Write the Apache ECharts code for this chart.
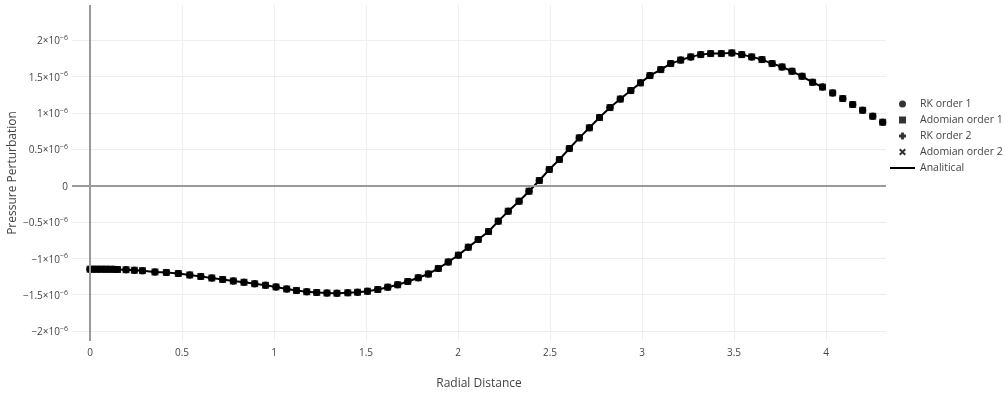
<!DOCTYPE html>
<html>
<head>
<meta charset="utf-8">
<script src="https://cdn.jsdelivr.net/npm/echarts@6/dist/echarts.min.js"></script>
<style>html,body{margin:0;padding:0;background:#fff;}#c{width:1005px;height:395px;}</style>
</head>
<body>
<div id="c"></div>
<script>
// ---- data ----
const radialDistance = [
  0.000, 0.025, 0.050, 0.075, 0.100, 0.125, 0.150, 0.196, 0.241, 0.285,
  0.353, 0.415, 0.480, 0.542, 0.602, 0.662, 0.721, 0.779, 0.837, 0.895,
  0.954, 1.011, 1.069, 1.122, 1.178, 1.232, 1.288, 1.342, 1.401, 1.454,
  1.508, 1.564, 1.618, 1.672, 1.727, 1.784, 1.839, 1.893, 1.947, 2.002,
  2.056, 2.110, 2.166, 2.219, 2.273, 2.332, 2.386, 2.442, 2.496, 2.551,
  2.605, 2.659, 2.714, 2.769, 2.826, 2.882, 2.939, 2.992, 3.043, 3.102,
  3.156, 3.210, 3.265, 3.319, 3.373, 3.431, 3.488, 3.542, 3.596, 3.652,
  3.707, 3.761, 3.815, 3.870, 3.927, 3.981, 4.036, 4.091, 4.145, 4.199,
  4.254, 4.308
];
// pressure perturbation (all four numerical solutions coincide at this resolution)
const rkOrder1 = [
  -1.150e-6, -1.150e-6, -1.150e-6, -1.150e-6, -1.151e-6, -1.152e-6, -1.154e-6, -1.157e-6, -1.165e-6, -1.170e-6,
  -1.188e-6, -1.195e-6, -1.209e-6, -1.229e-6, -1.250e-6, -1.271e-6, -1.291e-6, -1.312e-6, -1.330e-6, -1.350e-6,
  -1.371e-6, -1.394e-6, -1.422e-6, -1.442e-6, -1.460e-6, -1.470e-6, -1.478e-6, -1.481e-6, -1.474e-6, -1.467e-6,
  -1.453e-6, -1.429e-6, -1.397e-6, -1.364e-6, -1.319e-6, -1.268e-6, -1.216e-6, -1.140e-6, -1.051e-6, -0.957e-6,
  -0.848e-6, -0.742e-6, -0.632e-6, -0.490e-6, -0.353e-6, -0.216e-6, -0.078e-6, 0.069e-6, 0.220e-6, 0.357e-6,
  0.508e-6, 0.655e-6, 0.793e-6, 0.934e-6, 1.071e-6, 1.188e-6, 1.305e-6, 1.411e-6, 1.511e-6, 1.593e-6,
  1.676e-6, 1.724e-6, 1.768e-6, 1.799e-6, 1.813e-6, 1.813e-6, 1.823e-6, 1.799e-6, 1.768e-6, 1.731e-6,
  1.676e-6, 1.630e-6, 1.570e-6, 1.501e-6, 1.419e-6, 1.353e-6, 1.273e-6, 1.195e-6, 1.113e-6, 1.034e-6,
  0.952e-6, 0.870e-6
];
const adomianOrder1 = rkOrder1;
const rkOrder2 = rkOrder1;
const adomianOrder2 = rkOrder1;
// analytical solution is drawn up to r = 4
const analyticalCount = radialDistance.filter(r => r <= 4.0).length;
const analyticalX = radialDistance.slice(0, analyticalCount);
const analyticalY = rkOrder1.slice(0, analyticalCount);

const xTicks = [0, 0.5, 1, 1.5, 2, 2.5, 3, 3.5, 4];
const yTicks = [-2e-6, -1.5e-6, -1e-6, -0.5e-6, 0, 0.5e-6, 1e-6, 1.5e-6, 2e-6];

const seriesNames = ['RK order 1', 'Adomian order 1', 'RK order 2', 'Adomian order 2', 'Analitical'];

// ---- chart ----
const FONT = '"Open Sans", "Noto Sans", sans-serif';
const TXT = '#444';
const pairs = (xs, ys) => xs.map((x, i) => [x, ys[i]]);

const squarePath = 'path://M0,0L10,0L10,10L0,10Z';
const crossPath = 'path://M3,0L7,0L7,3L10,3L10,7L7,7L7,10L3,10L3,7L0,7L0,3L3,3Z';
const xPath = 'path://M0,2L2,0L5,3L8,0L10,2L7,5L10,8L8,10L5,7L2,10L0,8L3,5Z';
const linePath = 'path://M0,0L25,0L25,2L0,2Z';

function yFmt(v) {
  const m = Math.round(v * 1e7) / 10;
  if (Math.abs(m) < 1e-9) return '{a|0}';
  const s = (m < 0 ? '\u2212' : '') + Math.abs(m);
  return '{a|' + s + '\u00d710}{b|\u22126}';
}

const chart = echarts.init(document.getElementById('c'), null, { renderer: 'canvas' });
chart.setOption({
  backgroundColor: '#fff',
  animation: false,
  textStyle: { fontFamily: FONT },
  grid: { left: 72, right: 119, top: 5, bottom: 54, containLabel: false, outerBoundsMode: 'none' },
  xAxis: {
    type: 'value', min: -0.0978, max: 4.326,
    name: 'Radial Distance', nameLocation: 'middle', nameGap: 37,
    nameTextStyle: { color: TXT, fontSize: 12, fontFamily: FONT },
    axisLine: { show: false, onZero: false },
    axisTick: { show: false, customValues: xTicks },
    axisLabel: { customValues: xTicks, color: TXT, fontSize: 10, fontFamily: FONT, margin: 7,
      formatter: v => String(Math.round(v * 10) / 10) },
    splitLine: { show: true, lineStyle: { color: '#eeeeee', width: 1 } }
  },
  yAxis: {
    type: 'value', min: -2.137e-6, max: 2.481e-6,
    name: 'Pressure Perturbation', nameLocation: 'middle', nameGap: 53, nameRotate: 90,
    nameMoveOverlap: false,
    nameTextStyle: { color: TXT, fontSize: 12, fontFamily: FONT },
    axisLine: { show: false, onZero: false },
    axisTick: { show: false, customValues: yTicks },
    axisLabel: { customValues: yTicks, margin: 4, formatter: yFmt, padding: [3, 0, 0, 0],
      rich: {
        a: { color: TXT, fontSize: 10, fontFamily: FONT },
        b: { color: TXT, fontSize: 7, fontFamily: FONT, padding: [0, 0, 7, 0] }
      } },
    splitLine: { show: true, lineStyle: { color: '#eeeeee', width: 1 } }
  },
  legend: {
    orient: 'vertical', left: 890, top: 96, padding: 0,
    itemWidth: 25, itemHeight: 7, itemGap: 0,
    textStyle: { color: TXT, fontSize: 10.5, fontFamily: FONT, lineHeight: 16 },
    data: [
      { name: seriesNames[0], icon: 'circle' },
      { name: seriesNames[1], icon: squarePath },
      { name: seriesNames[2], icon: crossPath },
      { name: seriesNames[3], icon: xPath },
      { name: seriesNames[4], icon: linePath }
    ]
  },
  series: [
    { name: seriesNames[0], type: 'scatter',
      symbol: 'circle', symbolSize: 7, itemStyle: { color: '#000' },
      data: pairs(radialDistance, rkOrder1),
      markLine: {
        silent: true, symbol: 'none', animation: false,
        label: { show: false },
        lineStyle: { color: '#9a9a9a', width: 2, type: 'solid' },
        emphasis: { disabled: true },
        data: [{ xAxis: 0 }, { yAxis: 0 }]
      } },
    { name: seriesNames[1], type: 'scatter',
      symbol: 'rect', symbolSize: 7, itemStyle: { color: '#000' },
      data: pairs(radialDistance, adomianOrder1) },
    { name: seriesNames[2], type: 'scatter',
      symbol: crossPath, symbolSize: 7, itemStyle: { color: '#000' },
      data: pairs(radialDistance, rkOrder2) },
    { name: seriesNames[3], type: 'scatter',
      symbol: xPath, symbolSize: 6, itemStyle: { color: '#000' },
      data: pairs(radialDistance, adomianOrder2) },
    { name: seriesNames[4], type: 'line',
      symbol: 'none', showSymbol: false, smooth: false,
      lineStyle: { color: '#000', width: 2 }, itemStyle: { color: '#000' },
      data: pairs(analyticalX, analyticalY) }
  ]
});
</script>
</body>
</html>
